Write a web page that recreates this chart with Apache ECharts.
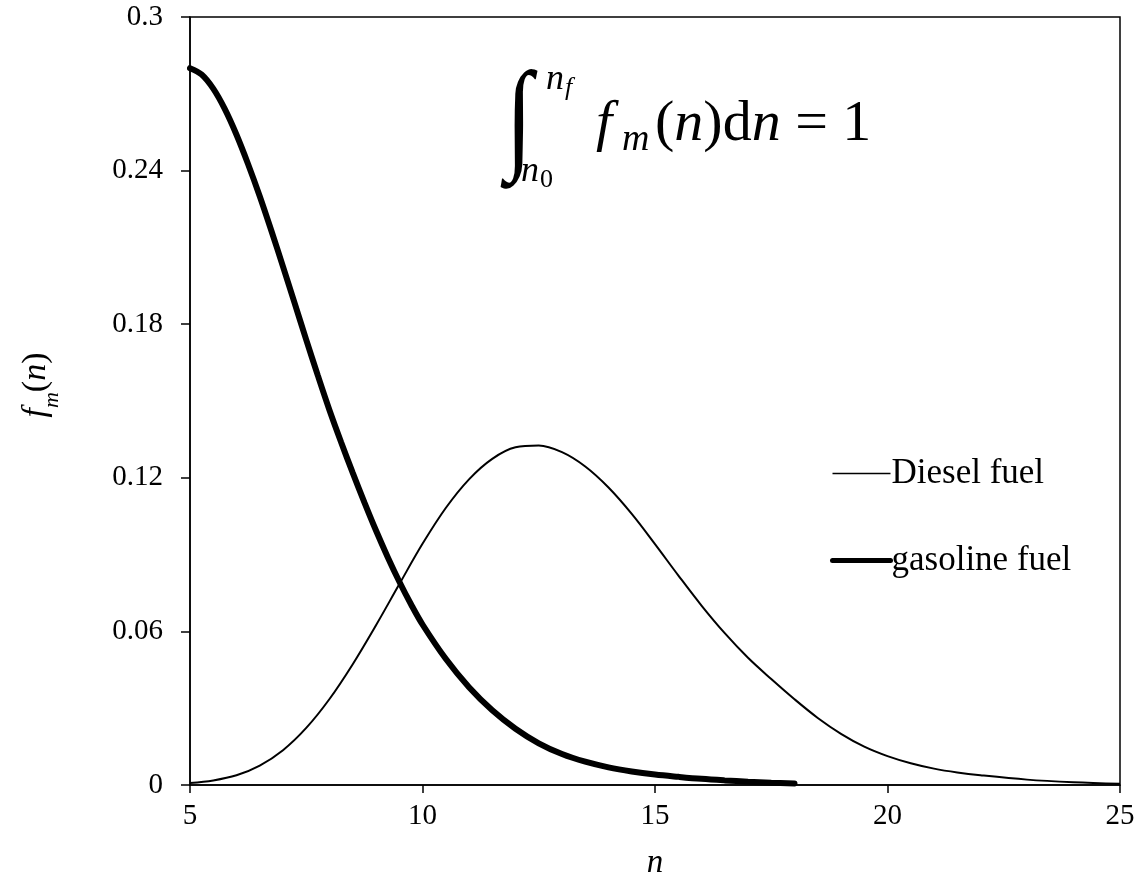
<!DOCTYPE html>
<html>
<head>
<meta charset="utf-8">
<script src="https://cdn.jsdelivr.net/npm/echarts@6/dist/echarts.min.js"></script>
<style>
  html, body { margin: 0; padding: 0; background: #fff; }
  #chart { width: 1134px; height: 886px; }
</style>
</head>
<body>
<div id="chart"></div>
<script>
// carbon number n
var dieselN = [5, 5.5, 6, 6.5, 7, 7.5, 8, 8.5, 9, 9.5, 10, 10.5, 11, 11.5, 12, 12.5, 13, 13.5, 14, 14.5, 15, 15.5, 16, 16.5, 17, 17.5, 18, 18.5, 19, 19.5, 20, 20.5, 21, 21.5, 22, 23, 24, 25];
var dieselF = [0.0008, 0.0018, 0.0038, 0.0076, 0.0136, 0.0223, 0.0336, 0.0472, 0.0624, 0.0784, 0.0942, 0.1082, 0.1194, 0.1274, 0.1319, 0.1326, 0.1300, 0.1244, 0.1162, 0.1059, 0.0941, 0.0819, 0.0701, 0.0593, 0.0497, 0.0414, 0.0335, 0.0262, 0.0200, 0.0150, 0.0113, 0.0085, 0.0064, 0.0049, 0.0038, 0.0021, 0.0011, 0.0005];

var gasN = [5, 5.25, 5.5, 5.75, 6, 6.25, 6.5, 6.75, 7, 7.25, 7.5, 7.75, 8, 8.25, 8.5, 8.75, 9, 9.25, 9.5, 9.75, 10, 10.5, 11, 11.5, 12, 12.5, 13, 13.5, 14, 14.5, 15, 15.5, 16, 16.5, 17, 17.5, 18];
var gasF = [0.2800, 0.2775, 0.2720, 0.2640, 0.2540, 0.2425, 0.2300, 0.2165, 0.2025, 0.1882, 0.1739, 0.1599, 0.1464, 0.1339, 0.1219, 0.1104, 0.0994, 0.0891, 0.0795, 0.0707, 0.0627, 0.0493, 0.0382, 0.0292, 0.0220, 0.0163, 0.0121, 0.0091, 0.0069, 0.0053, 0.0041, 0.0032, 0.0024, 0.0018, 0.0013, 0.0009, 0.0006];

var xTicks = [5, 10, 15, 20, 25];
var yTicks = [0, 0.06, 0.12, 0.18, 0.24, 0.3];

function pairs(xs, ys) {
    return xs.map(function (x, i) { return [x, ys[i]]; });
}

var serif = 'Liberation Serif';
var myChart = echarts.init(document.getElementById('chart'));

var option = {
    animation: false,
    backgroundColor: '#fff',
    grid: {
        left: 190,
        right: 14,
        top: 17,
        bottom: 101,
        show: true,
        borderColor: '#000',
        borderWidth: 1.5,
        containLabel: false,
        outerBoundsMode: 'none'
    },
    legend: {
        orient: 'vertical',
        left: 830,
        top: 456,
        itemWidth: 58,
        itemHeight: 8,
        itemGap: 52,
        padding: 0,
        itemStyle: { opacity: 0 },
        data: [
            { name: 'Diesel fuel', lineStyle: { width: 1.5, color: '#000' } },
            { name: 'gasoline fuel', lineStyle: { width: 5, color: '#000' } }
        ],
        textStyle: {
            color: '#000',
            fontFamily: serif,
            fontSize: 35,
            padding: [0, 0, 0, -4]
        }
    },
    xAxis: {
        type: 'value',
        min: xTicks[0],
        max: xTicks[xTicks.length - 1],
        interval: 5,
        name: 'n',
        nameLocation: 'middle',
        nameGap: 62,
        nameTextStyle: {
            color: '#000',
            fontFamily: serif,
            fontStyle: 'italic',
            fontSize: 33
        },
        axisLine: { lineStyle: { color: '#000', width: 1.5 } },
        axisTick: { inside: false, length: 8, lineStyle: { color: '#000', width: 1.5 } },
        axisLabel: {
            color: '#000',
            fontFamily: serif,
            fontSize: 29,
            margin: 17
        },
        splitLine: { show: false }
    },
    yAxis: {
        type: 'value',
        min: yTicks[0],
        max: yTicks[yTicks.length - 1],
        interval: 0.06,
        name: '{i|f}{s|m}{u|(}{i|n}{u|)}',
        nameLocation: 'middle',
        nameGap: 135,
        nameRotate: 90,
        nameTextStyle: {
            color: '#000',
            padding: [0, 0, 0, 32],
            rich: {
                i: { fontFamily: serif, fontStyle: 'italic', fontSize: 34, color: '#000', lineHeight: 38 },
                u: { fontFamily: serif, fontSize: 34, color: '#000', lineHeight: 38 },
                s: { fontFamily: serif, fontStyle: 'italic', fontSize: 22, color: '#000', lineHeight: 38, verticalAlign: 'bottom', padding: [0, 0, -8, 0] }
            }
        },
        axisLine: { lineStyle: { color: '#000', width: 1.5 } },
        axisTick: { inside: false, length: 9, lineStyle: { color: '#000', width: 1.5 } },
        axisLabel: {
            color: '#000',
            fontFamily: serif,
            fontSize: 29,
            margin: 27,
            formatter: function (v) { return String(+v.toFixed(2)); }
        },
        splitLine: { show: false }
    },
    graphic: [
        { type: 'text', x: 519, y: 124, scaleX: 0.8, style: { text: '\u222B', font: 'italic 122px "Liberation Serif"', fill: '#000', align: 'center', verticalAlign: 'middle' } },
        { type: 'text', x: 546, y: 80, style: { text: 'n', font: 'italic 36px "Liberation Serif"', fill: '#000', align: 'left', verticalAlign: 'middle' } },
        { type: 'text', x: 565, y: 88, style: { text: 'f', font: 'italic 26px "Liberation Serif"', fill: '#000', align: 'left', verticalAlign: 'middle' } },
        { type: 'text', x: 521, y: 172, style: { text: 'n', font: 'italic 36px "Liberation Serif"', fill: '#000', align: 'left', verticalAlign: 'middle' } },
        { type: 'text', x: 540, y: 180, style: { text: '0', font: '26px "Liberation Serif"', fill: '#000', align: 'left', verticalAlign: 'middle' } },
        { type: 'text', x: 596, y: 125, style: { text: 'f', font: 'italic 58px "Liberation Serif"', fill: '#000', align: 'left', verticalAlign: 'middle' } },
        { type: 'text', x: 622, y: 140, style: { text: 'm', font: 'italic 38px "Liberation Serif"', fill: '#000', align: 'left', verticalAlign: 'middle' } },
        {
            type: 'text', x: 655, y: 125,
            style: {
                text: '{u|(}{i|n}{u|)d}{i|n}{u| = 1}',
                align: 'left', verticalAlign: 'middle',
                rich: {
                    u: { fontFamily: serif, fontSize: 58, fill: '#000' },
                    i: { fontFamily: serif, fontStyle: 'italic', fontSize: 58, fill: '#000' }
                }
            }
        }
    ],
    series: [
        {
            name: 'Diesel fuel',
            type: 'line',
            smooth: 0.35,
            symbol: 'none',
            lineStyle: { color: '#000', width: 2 },
            itemStyle: { color: '#000' },
            data: pairs(dieselN, dieselF)
        },
        {
            name: 'gasoline fuel',
            type: 'line',
            smooth: 0.35,
            symbol: 'none',
            lineStyle: { color: '#000', width: 6, cap: 'round' },
            itemStyle: { color: '#000' },
            data: pairs(gasN, gasF)
        }
    ]
};

myChart.setOption(option);
</script>
</body>
</html>
